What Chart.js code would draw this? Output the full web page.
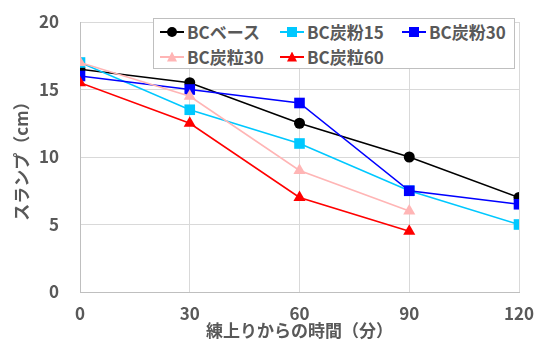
<!DOCTYPE html>
<html>
<head>
<meta charset="utf-8">
<script src="https://cdn.jsdelivr.net/npm/chart.js@4/dist/chart.umd.min.js"></script>
<style>
  html, body { margin: 0; padding: 0; background: #fff; }
  .wrap { position: relative; width: 542px; height: 345px; }
  #legend {
    position: absolute; left: 153px; top: 18px; width: 362px; height: 51px;
    border: 1px solid #bfbfbf; background: #fff; box-sizing: border-box;
    display: grid; grid-template-columns: 120px 122px 115px; grid-auto-rows: 25px;
    padding: 0 0 0 6px;
    font: bold 17px "Noto Sans CJK JP", sans-serif; color: #595959;
  }
  .item { display: flex; align-items: center; white-space: nowrap; }
  .mk { position: relative; width: 24px; height: 14px; margin-right: 3px; }
  .mk .ln { position: absolute; left: 0; right: 0; top: 6px; height: 2px; }
  .mk .pt { position: absolute; left: 7px; top: 2px; width: 10px; height: 10px; }
</style>
</head>
<body>
<div class="wrap">
  <canvas id="chartbox" width="542" height="345"></canvas>
  <div id="legend"></div>
</div>
<script>
const times = [0, 30, 60, 90, 120]
const names = ['BCベース', 'BC炭粉15', 'BC炭粉30', 'BC炭粒30', 'BC炭粒60']
const base   = [16.5, 15.5, 12.5, 10, 7]
const fun15  = [17, 13.5, 11, 7.5, 5]
const fun30  = [16, 15, 14, 7.5, 6.5]
const tsubu30 = [17, 14.5, 9, 6]
const tsubu60 = [15.5, 12.5, 7, 4.5]
const yTicks = [0, 5, 10, 15, 20]

const colors = ['#000000', '#00c8ff', '#0000ff', '#ffb5b5', '#ff0000']
const shapes = ['circle', 'rect', 'rect', 'triangle', 'triangle']
const radii = [5.5, 7.5, 7.5, 7, 7]
const series = [base, fun15, fun30, tsubu30, tsubu60]

const grey = '#595959'
const font = { family: '"Noto Sans CJK JP", sans-serif', size: 17, weight: 'bold' }

const datasets = series.map((vals, i) => ({
  label: names[i],
  data: vals.map((v, j) => ({ x: times[j], y: v })),
  borderColor: colors[i],
  backgroundColor: colors[i],
  pointBackgroundColor: colors[i],
  pointBorderColor: colors[i],
  pointBorderWidth: 0,
  pointStyle: shapes[i],
  pointRadius: radii[i],
  borderWidth: 1.6,
  tension: 0,
  order: series.length - i
}))

const chart = new Chart(document.querySelector('#chartbox'), {
  type: 'line',
  data: { datasets },
  options: {
    responsive: false,
    animation: false,
    layout: { padding: { top: 22, right: 23, left: 0, bottom: 0 } },
    plugins: { legend: { display: false }, tooltip: { enabled: false } },
    scales: {
      x: {
        type: 'linear', min: 0, max: 120,
        afterFit: s => { s.height = 53; s.paddingLeft = 0; s.paddingRight = 0 },
        afterBuildTicks: s => { s.ticks = times.map(v => ({ value: v })) },
        grid: { color: '#d9d9d9', drawTicks: false },
        border: { color: '#bfbfbf' },
        ticks: { color: grey, font, padding: 11 },
        title: { display: true, text: '練上りからの時間（分）', color: grey, font, padding: { top: 0, bottom: 4 } }
      },
      y: {
        min: 0, max: 20,
        afterFit: s => { s.width = 80; s.paddingTop = 0; s.paddingBottom = 0 },
        afterBuildTicks: s => { s.ticks = yTicks.map(v => ({ value: v })) },
        grid: { color: '#d9d9d9', drawTicks: false },
        border: { color: '#bfbfbf' },
        ticks: { color: grey, font, padding: 21 },
        title: { display: true, text: 'スランプ（cm）', color: grey, font, padding: { top: 11, bottom: 0 } }
      }
    }
  }
})

// legend laid out in columns like the spreadsheet one
const legend = document.querySelector('#legend')
chart.data.datasets.forEach((ds, i) => {
  const item = document.createElement('div')
  item.className = 'item'
  const mk = document.createElement('span')
  mk.className = 'mk'
  const ln = document.createElement('span')
  ln.className = 'ln'
  ln.style.background = ds.borderColor
  const pt = document.createElement('span')
  pt.className = 'pt'
  pt.style.background = ds.borderColor
  if (ds.pointStyle === 'circle') pt.style.borderRadius = '50%'
  if (ds.pointStyle === 'triangle') pt.style.clipPath = 'polygon(50% 0, 100% 100%, 0 100%)'
  mk.append(ln, pt)
  const txt = document.createElement('span')
  txt.textContent = ds.label
  item.append(mk, txt)
  legend.append(item)
})
</script>
</body>
</html>
